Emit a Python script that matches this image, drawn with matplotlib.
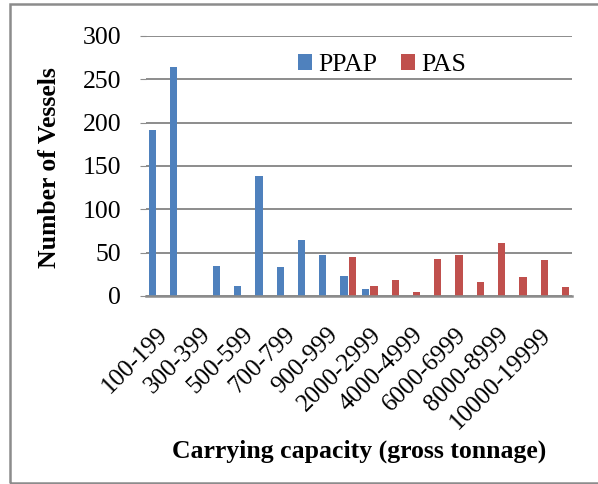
import matplotlib
matplotlib.use("Agg")
import matplotlib.pyplot as plt
import numpy as np
from matplotlib.patches import Rectangle

categories = ["100-199", "200-299", "300-399", "400-499", "500-599", "600-699",
              "700-799", "800-899", "900-999", "1000-1999", "2000-2999", "3000-3999",
              "4000-4999", "5000-5999", "6000-6999", "7000-7999", "8000-8999",
              "9000-9999", "10000-19999", ">20000"]
ppap = [192, 264, 0, 35, 12, 139, 34, 65, 47, 23, 8, 0, 0, 0, 0, 0, 0, 0, 0, 0]
pas = [0, 0, 0, 0, 0, 0, 0, 0, 0, 45, 12, 18, 5, 43, 47, 16, 61, 22, 41, 10]
yticks = [0, 50, 100, 150, 200, 250, 300]

plt.rcParams['font.family'] = ['Liberation Serif', 'DejaVu Serif']

fig = plt.figure(figsize=(5.98, 4.84), dpi=100)
ax = fig.add_axes([146/598, 1-296/484, 426/598, 260/484])

x = np.arange(len(categories))
w = 0.34
off = 0.2
blue = '#4F81BD'
red = '#C0504D'
ax.bar(x - off, ppap, w, color=blue, label='PPAP', zorder=3)
ax.bar(x + off, pas, w, color=red, label='PAS', zorder=3)

ax.set_xlim(-0.5, len(categories) - 0.5)
ax.set_ylim(0, 300)
ax.set_yticks(yticks)
ax.yaxis.grid(True, color='#8c8c8c', linewidth=1.4, zorder=0)
ax.set_axisbelow(True)
for s in ['top', 'right', 'left']:
    ax.spines[s].set_visible(False)
ax.spines['bottom'].set_color('#8c8c8c')
ax.spines['bottom'].set_linewidth(1.8)
ax.spines['bottom'].set_zorder(4)

ax.tick_params(axis='y', length=4, color='#8c8c8c', labelsize=18.5, pad=14)
ax.set_xticks(x[::2])
ax.set_xticklabels(categories[::2], rotation=45, ha='right', rotation_mode='anchor',
                   fontsize=18)
ax.tick_params(axis='x', length=0, pad=20)

ax.legend(loc='center', bbox_to_anchor=(0.554, 0.888), ncol=2, frameon=False,
          fontsize=18.5, handlelength=0.55, handleheight=0.55, handletextpad=0.25,
          columnspacing=0.9, borderpad=0, borderaxespad=0)

fig.text(50/598, 1-168/484, 'Number of Vessels', rotation=90, ha='center', va='center',
         fontsize=18.5, fontweight='bold')
fig.text(359/598, 1-451/484, 'Carrying capacity (gross tonnage)', ha='center', va='center',
         fontsize=18.5, fontweight='bold')

fig.patches.append(Rectangle((10/598, 1/484), 1 - 10/598 + 0.01, 1 - 5/484, transform=fig.transFigure,
                             fill=False, edgecolor='#8c8c8c', linewidth=1.8))

fig.savefig('out.png', dpi=100)
